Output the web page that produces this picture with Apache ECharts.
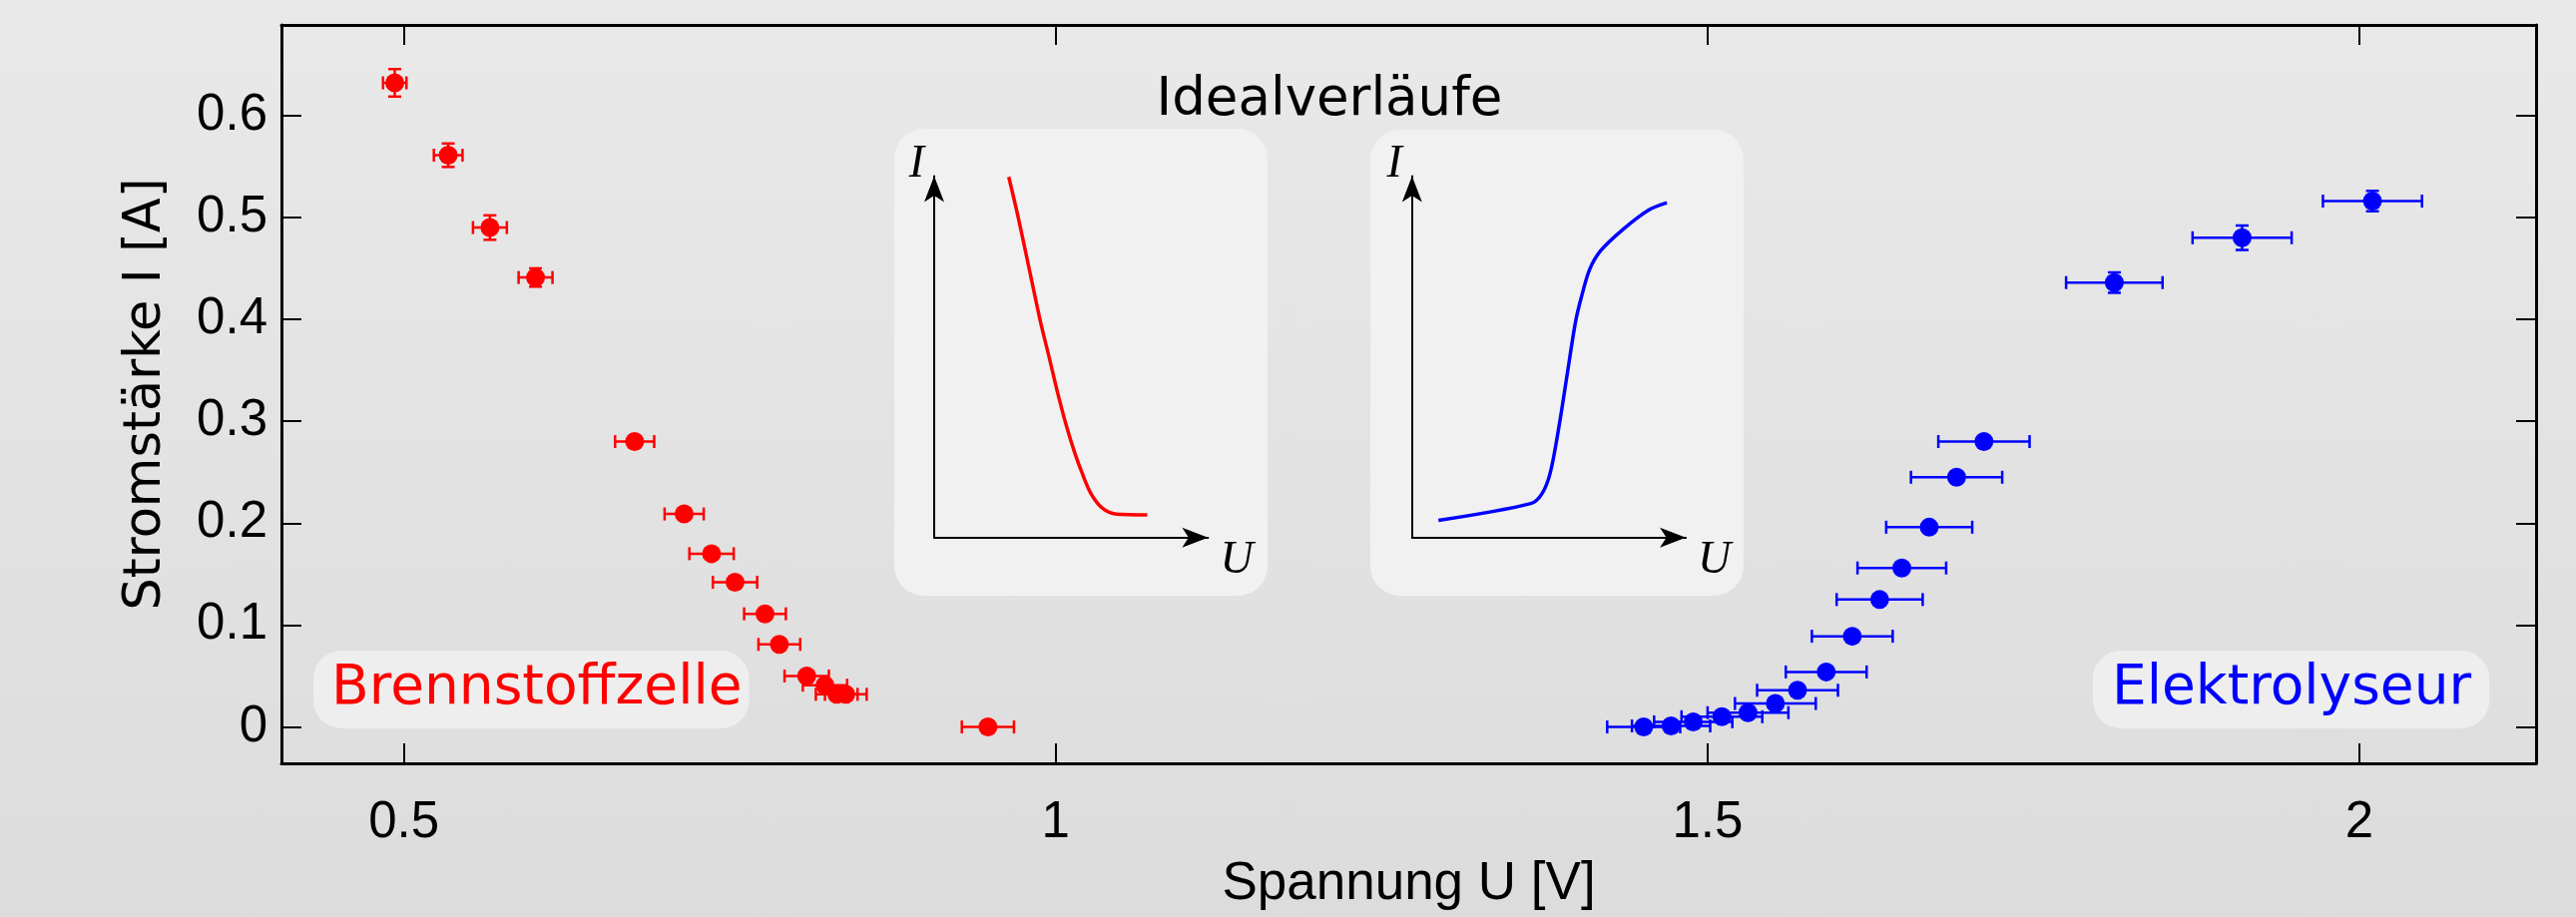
<!DOCTYPE html>
<html>
<head>
<meta charset="utf-8">
<script src="https://cdn.jsdelivr.net/npm/echarts@6/dist/echarts.min.js"></script>
<style>
  html, body { margin: 0; padding: 0; }
  #chart {
    width: 2581px; height: 919px;
    background: linear-gradient(to bottom, #e9e9e9 0%, #dcdcdc 100%);
  }
</style>
</head>
<body>
<div id="chart"></div>
<script>
// Brennstoffzelle (fuel cell) measurements
var fcU    = [0.493, 0.534, 0.566, 0.601, 0.677, 0.715, 0.736, 0.754, 0.777, 0.788, 0.809, 0.823, 0.832, 0.839, 0.948];
var fcI    = [0.632, 0.561, 0.490, 0.441, 0.280, 0.209, 0.170, 0.142, 0.111, 0.081, 0.050, 0.041, 0.032, 0.032, 0.000];
var fcUErr = [0.009, 0.011, 0.013, 0.013, 0.015, 0.015, 0.017, 0.017, 0.016, 0.016, 0.017, 0.017, 0.016, 0.016, 0.020];
var fcIErr = [0.0135, 0.0115, 0.012, 0.009, 0, 0, 0, 0, 0, 0, 0, 0, 0, 0, 0];

// Elektrolyseur (electrolyser) measurements
var elU    = [1.451, 1.472, 1.489, 1.511, 1.531, 1.552, 1.569, 1.591, 1.611, 1.632, 1.649, 1.670, 1.691, 1.712, 1.812, 1.910, 2.010];
var elI    = [0.000, 0.001, 0.005, 0.010, 0.014, 0.023, 0.036, 0.054, 0.089, 0.125, 0.156, 0.196, 0.245, 0.280, 0.436, 0.480, 0.516];
var elUErr = [0.028, 0.030, 0.030, 0.031, 0.031, 0.031, 0.031, 0.031, 0.031, 0.033, 0.034, 0.033, 0.035, 0.035, 0.037, 0.038, 0.038];
var elIErr = [0, 0, 0, 0, 0, 0, 0, 0, 0, 0, 0, 0, 0, 0.004, 0.010, 0.012, 0.010];

// axis ticks
var xTicks = [0.5, 1, 1.5, 2];
var yTicks = [0, 0.1, 0.2, 0.3, 0.4, 0.5, 0.6];

// Idealverläufe (sketch curves, arbitrary units, 1 = arrow tip)
var fcIdealU = [0.260, 0.293, 0.332, 0.371, 0.401, 0.430, 0.459, 0.489, 0.518, 0.547, 0.586, 0.635, 0.743];
var fcIdealI = [0.963, 0.855, 0.715, 0.575, 0.481, 0.388, 0.304, 0.229, 0.168, 0.117, 0.079, 0.063, 0.061];
var elIdealU = [0.092, 0.414, 0.453, 0.482, 0.512, 0.541, 0.570, 0.590, 0.619, 0.658, 0.736, 0.824, 0.889];
var elIdealI = [0.046, 0.091, 0.117, 0.173, 0.294, 0.435, 0.575, 0.640, 0.715, 0.766, 0.823, 0.874, 0.894];

function zip() {
    var arrs = arguments;
    return arrs[0].map(function (v, k) {
        return Array.prototype.map.call(arrs, function (a) { return a[k]; });
    });
}

function errorBars(color) {
    return function (params, api) {
        var u = api.value(0), i = api.value(1), du = api.value(2), di = api.value(3);
        var cap = 6.5;
        var style = { stroke: color, lineWidth: 2.5 };
        var kids = [];
        if (du > 0) {
            var a = api.coord([u - du, i]), b = api.coord([u + du, i]);
            kids.push({ type: 'line', shape: { x1: a[0], y1: a[1], x2: b[0], y2: b[1] }, style: style });
            kids.push({ type: 'line', shape: { x1: a[0], y1: a[1] - cap, x2: a[0], y2: a[1] + cap }, style: style });
            kids.push({ type: 'line', shape: { x1: b[0], y1: b[1] - cap, x2: b[0], y2: b[1] + cap }, style: style });
        }
        if (di > 0) {
            var c = api.coord([u, i - di]), d = api.coord([u, i + di]);
            kids.push({ type: 'line', shape: { x1: c[0], y1: c[1], x2: d[0], y2: d[1] }, style: style });
            kids.push({ type: 'line', shape: { x1: c[0] - cap, y1: c[1], x2: c[0] + cap, y2: c[1] }, style: style });
            kids.push({ type: 'line', shape: { x1: d[0] - cap, y1: d[1], x2: d[0] + cap, y2: d[1] }, style: style });
        }
        return { type: 'group', children: kids };
    };
}

var tickFont = { fontFamily: 'Liberation Sans', fontSize: 51, color: '#000' };
var blackLine = { color: '#000', width: 3 };

function mainAxis(pos, min, max, ticks, extra) {
    var ax = {
        type: 'value', gridIndex: 0, position: pos, min: min, max: max,
        splitLine: { show: false },
        axisLine: { show: true, onZero: false, lineStyle: blackLine },
        axisTick: { show: true, inside: true, length: 20, customValues: ticks, lineStyle: { color: '#000', width: 2 } },
        axisLabel: { show: false, customValues: ticks }
    };
    return Object.assign(ax, extra || {});
}

function insetAxis(idx, isX, name) {
    var ax = {
        type: 'value', gridIndex: idx, min: 0, max: isX ? 0.955 : 0.965,
        splitLine: { show: false },
        axisTick: { show: false },
        axisLabel: { show: false },
        axisLine: {
            show: true, onZero: false,
            symbol: ['none', 'arrow'], symbolSize: [15, 26],
            lineStyle: { color: '#000', width: 2 }
        },
        name: name,
        nameLocation: 'end',
        nameTextStyle: {
            fontFamily: 'Liberation Serif', fontStyle: 'italic', fontSize: 46, color: '#000'
        }
    };
    if (isX) {
        ax.nameGap = 12;
        ax.nameTextStyle.verticalAlign = 'top';
        ax.nameTextStyle.align = 'left';
    } else {
        ax.nameGap = 12;
        ax.nameTextStyle.align = 'right';
        ax.nameTextStyle.verticalAlign = 'middle';
        ax.nameTextStyle.padding = [0, 10, 0, 0];
    }
    return ax;
}

var chart = echarts.init(document.getElementById('chart'), null, { renderer: 'canvas' });

var option = {
    backgroundColor: 'transparent',
    animation: false,
    graphic: [
        { type: 'rect', z: 0, shape: { x: 896, y: 129, width: 374, height: 468, r: 30 }, style: { fill: '#f1f1f1' } },
        { type: 'rect', z: 0, shape: { x: 1373, y: 130, width: 374, height: 467, r: 30 }, style: { fill: '#f1f1f1' } }
    ],
    title: [
        {
            text: 'Idealverläufe', left: 1327, top: 70, textAlign: 'center',
            textStyle: { fontFamily: 'DejaVu Sans', fontSize: 53, fontWeight: 'normal', color: '#000' }
        },
        {
            text: 'Brennstoffzelle', left: 314, top: 652,
            backgroundColor: '#eeeeee', borderRadius: 28, padding: [9, 7, 9, 18],
            textStyle: { fontFamily: 'DejaVu Sans', fontSize: 55, lineHeight: 60, fontWeight: 'normal', color: '#ff0000' }
        },
        {
            text: 'Elektrolyseur', left: 2097, top: 652,
            backgroundColor: '#eeeeee', borderRadius: 28, padding: [9, 18, 9, 19],
            textStyle: { fontFamily: 'DejaVu Sans', fontSize: 55, lineHeight: 60, fontWeight: 'normal', color: '#0000ff' }
        }
    ],
    grid: [
        { left: 282, right: 40, top: 25, bottom: 154 },
        { left: 936, top: 176.5, width: 274.4, height: 362.3 },
        { left: 1414.8, top: 176.5, width: 274.3, height: 362.3 }
    ],
    xAxis: [
        mainAxis('bottom', 0.4061, 2.1355, xTicks, {
            axisLabel: { show: true, customValues: xTicks, margin: 34, textStyle: tickFont },
            name: 'Spannung U [V]', nameLocation: 'middle', nameGap: 95,
            nameTextStyle: { fontFamily: 'Liberation Sans', fontSize: 53, color: '#000' }
        }),
        mainAxis('top', 0.4061, 2.1355, xTicks),
        insetAxis(1, true, 'U'),
        insetAxis(2, true, 'U')
    ],
    yAxis: [
        mainAxis('left', -0.0357, 0.6888, yTicks, {
            axisLabel: { show: true, customValues: yTicks, margin: 14, textStyle: tickFont },
            name: 'Stromstärke I [A]', nameLocation: 'middle', nameGap: 110,
            nameTextStyle: { fontFamily: 'DejaVu Sans', fontSize: 51, color: '#000' }
        }),
        mainAxis('right', -0.0357, 0.6888, yTicks),
        insetAxis(1, false, 'I'),
        insetAxis(2, false, 'I')
    ],
    series: [
        {
            type: 'custom', xAxisIndex: 0, yAxisIndex: 0,
            renderItem: errorBars('#ff0000'),
            data: zip(fcU, fcI, fcUErr, fcIErr), z: 3
        },
        {
            type: 'custom', xAxisIndex: 0, yAxisIndex: 0,
            renderItem: errorBars('#0000ff'),
            data: zip(elU, elI, elUErr, elIErr), z: 3
        },
        {
            type: 'scatter', xAxisIndex: 0, yAxisIndex: 0,
            symbol: 'circle', symbolSize: 19,
            itemStyle: { color: '#ff0000', opacity: 1 },
            data: zip(fcU, fcI), z: 4
        },
        {
            type: 'scatter', xAxisIndex: 0, yAxisIndex: 0,
            symbol: 'circle', symbolSize: 19,
            itemStyle: { color: '#0000ff', opacity: 1 },
            data: zip(elU, elI), z: 4
        },
        {
            type: 'line', xAxisIndex: 2, yAxisIndex: 2,
            smooth: 0.3, showSymbol: false,
            lineStyle: { color: '#ff0000', width: 3.5 },
            data: zip(fcIdealU, fcIdealI)
        },
        {
            type: 'line', xAxisIndex: 3, yAxisIndex: 3,
            smooth: 0.3, showSymbol: false,
            lineStyle: { color: '#0000ff', width: 3.5 },
            data: zip(elIdealU, elIdealI)
        }
    ]
};

chart.setOption(option);
</script>
</body>
</html>
